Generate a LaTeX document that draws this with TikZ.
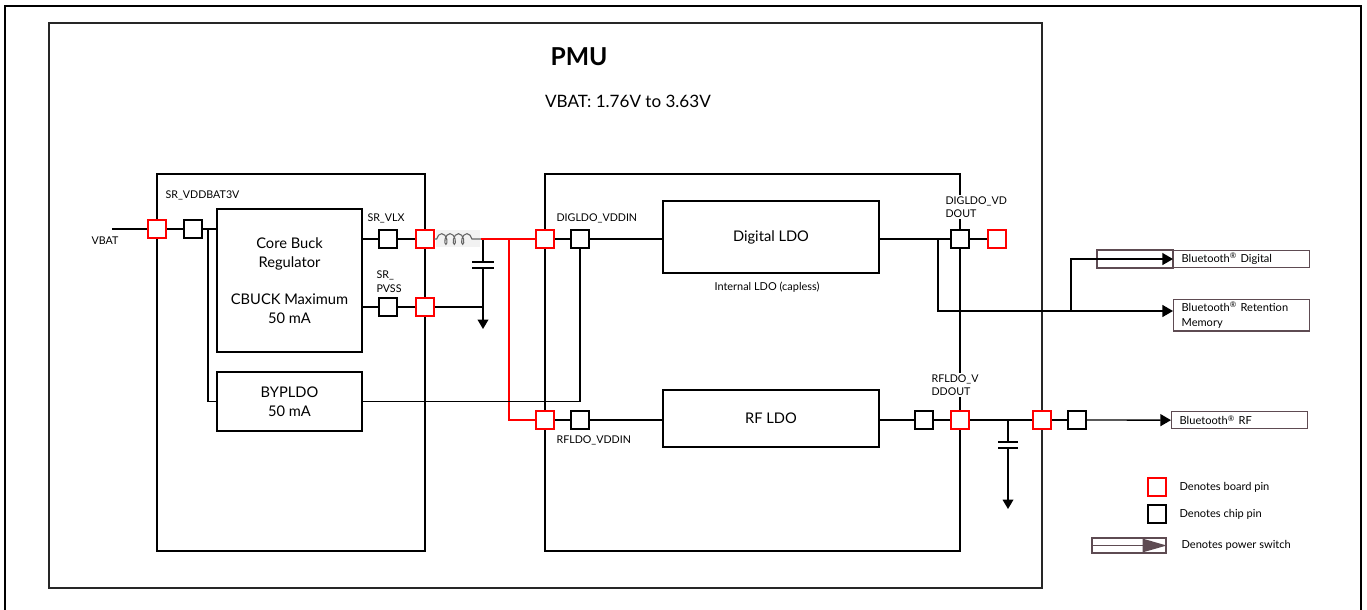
\documentclass[tikz,border=0pt]{standalone}
\usepackage{fontspec}
\setmainfont{Lato}
\usetikzlibrary{arrows.meta,decorations.pathmorphing}
\definecolor{swc}{HTML}{5E4B52}
\begin{document}
\begin{tikzpicture}[x=0.75pt,y=-0.75pt,
  wire/.style={line width=1pt},
  frame/.style={line width=1.3pt},
  rpin/.style={draw=red,fill=white,line width=1pt,minimum size=13.5pt,inner sep=0pt},
  bpin/.style={draw=black,fill=white,line width=1pt,minimum size=13.5pt,inner sep=0pt},
  blk/.style={draw,line width=1pt,align=center,inner sep=0pt,font=\fontsize{11}{14.25}\selectfont},
  lbl/.style={font=\fontsize{8}{10}\selectfont,inner sep=1pt,align=left},
  btbox/.style={draw=swc,line width=1pt,inner xsep=6pt,inner ysep=2pt,align=left,anchor=north west,text width=90pt,font=\fontsize{8.3}{11}\selectfont},
  arr/.style={wire,-{Triangle[length=8pt,width=9pt]}},
  gnd/.style={wire,-{Triangle[length=7pt,width=8pt]}}]
\useasboundingbox (0,0) rectangle (1367,610);
% outer frame and PMU box
\draw[line width=1.6pt] (5,640) -- (5,6) -- (1361,6) -- (1361,640);
\draw[frame,draw=black!85] (49,23) rectangle (1042,588);
\node[font=\fontsize{18.5}{22}\selectfont\bfseries] (pmu) at (579,57) {PMU};
\node[font=\fontsize{12.8}{16}\selectfont] (vbatr) at (628,101) {VBAT: 1.76V to 3.63V};
% containers
\draw[wire] (157,174) rectangle (425,551);
\draw[wire] (545,174) rectangle (960,551);
\node[lbl,anchor=west] (lsrvdd) at (164,195) {SR\_VDDBAT3V};
% blocks
\node[blk,minimum width=108.75pt,minimum height=107.25pt] (core) at (289.5,280.5)
  {Core Buck\\Regulator\\[14pt]CBUCK Maximum\\50 mA};
\node[blk,minimum width=108.75pt,minimum height=44.25pt] (byp) at (289.5,401.5) {BYPLDO\\50 mA};
\node[blk,minimum width=162pt,minimum height=54pt] (digldo) at (771,237) {Digital LDO};
\node[blk,minimum width=162pt,minimum height=42.75pt] (rfldo) at (771,418.5) {RF LDO};
\node[lbl,font=\fontsize{8.2}{10}\selectfont] (intl) at (767,287) {Internal LDO (capless)};
% VBAT input
\coordinate (vin) at (112,229);
\node[lbl] (lvbat) at (105,241) {VBAT};
\node[bpin] (vbatc) at (193,229) {};
\coordinate (tap) at (208,229);
\draw[wire] (vin) -- (157,229);
\draw[wire] (157,229) -- (vbatc.west);
\draw[wire] (vbatc.east) -- (core.west |- vbatc);
\draw[wire] (tap) |- (byp.west);
\node[rpin] (vbatpin) at (157,229) {};
% SR_VLX and SR_PVSS
\node[bpin] (vlxc) at (388,239) {};
\node[bpin] (pvssc) at (388,307) {};
\draw[wire] (core.east |- vlxc) -- (vlxc.west);
\draw[wire] (core.east |- pvssc) -- (pvssc.west);
\draw[wire] (vlxc.east) -- (425,239);
\draw[wire] (pvssc.east) -- (425,307);
\node[rpin] (vlxr) at (425,239) {};
\node[rpin] (pvssr) at (425,307) {};
\node[lbl,anchor=south] (lvlx) at (386,225) {SR\_VLX};
\node[lbl,anchor=south west] (lpvss) at (375,294) {SR\_\\PVSS};
% inductor and capacitor
\coordinate (ls) at (434,239);
\coordinate (le) at (481,239);
\coordinate (cx) at (483,239);
\coordinate (cp1) at (483,262);
\coordinate (cp2) at (483,268);
\coordinate (g1) at (483,329);
\fill[black!5] (436,230) rectangle (480,247);
\draw[black!60,line width=0.8pt,decorate,decoration={coil,aspect=0.55,segment length=6.3pt,amplitude=4pt,pre length=2pt,post length=2pt}] (ls) -- (le);
\draw[wire] (cx) -- (cp1);
\draw[wire] (472,262) -- (494,262);
\draw[wire] (472,268) -- (494,268);
\draw[gnd] (cp2) -- (g1);
\draw[wire] (pvssr.east) -- (483,307);
% red wiring
\node[rpin] (diginr) at (545,239) {};
\node[rpin] (rfinr) at (545,420) {};
\draw[red,line width=1.2pt] (le) -- (diginr.west);
\draw[red,line width=2.2pt] (509,239) -- (509,420) -- (rfinr.west);
\node[rpin] at (545,239) {};
% digital LDO input
\node[bpin] (diginc) at (580,239) {};
\draw[wire] (diginr.east) -- (diginc.west);
\draw[wire] (diginc.east) -- (digldo.west |- diginc);
\draw[wire] (diginc.south) -- (diginc |- byp.east) -- (byp.east);
\node[lbl,anchor=south west] (ldigin) at (555,225) {DIGLDO\_VDDIN};
% RF LDO input
\node[bpin] (rfinc) at (580,420) {};
\draw[wire] (rfinr.east) -- (rfinc.west);
\draw[wire] (rfinc.east) -- (rfldo.west |- rfinc);
\node[lbl,anchor=north west] (lrfin) at (555,434) {RFLDO\_VDDIN};
% digital LDO output
\node[lbl,anchor=west,fill=white] (ldigout) at (944,207) {DIGLDO\_VD\\DOUT};
\node[bpin] (digoutc) at (960,239) {};
\node[rpin] (digoutr) at (997,239) {};
\draw[wire] (digldo.east |- digoutc) -- (digoutc.west);
\draw[wire] (digoutc.east) -- (digoutr.west);
\coordinate (dt) at (938,239);
\coordinate (db) at (938,311);
\coordinate (dj) at (1071,311);
% Bluetooth boxes
\node[btbox,minimum height=11.25pt] (btdig) at (1173,250) {Bluetooth\textsuperscript{®} Digital};
\node[btbox,minimum height=22.5pt] (btret) at (1173,299) {Bluetooth\textsuperscript{®} Retention\\Memory};
\node[btbox,minimum height=12.75pt] (btrf) at (1171,411) {Bluetooth\textsuperscript{®} RF};
\draw[draw=swc,line width=1pt] (1097,250) rectangle (btdig.south west);
\draw[arr] (dt) -- (db) -- (db -| btret.west);
\draw[arr] (dj) |- (btdig.west);
% RF LDO output
\node[lbl,anchor=west,fill=white] (lrfout) at (930,385) {RFLDO\_V\\DDOUT};
\node[bpin] (rfoutc) at (924,420) {};
\node[rpin] (rfoutr) at (960,420) {};
\node[bpin] (pmuc) at (1077,420) {};
\draw[wire] (rfldo.east |- rfoutc) -- (rfoutc.west);
\draw[wire] (rfoutc.east) -- (rfoutr.west);
\draw[wire] (rfoutr.east) -- (1042,420);
\draw[wire] (1042,420) -- (pmuc.west);
\node[rpin] (pmur) at (1042,420) {};
\draw[arr] (pmuc.east) -- (btrf.west);
\coordinate (c2) at (1008,420);
\draw[wire] (c2) -- (1008,442);
\draw[wire] (998,442) -- (1018,442);
\draw[wire] (998,448) -- (1018,448);
\draw[gnd] (1008,448) -- (1008,509);
% legend
\node[rpin] (legr) at (1157,487) {};
\node[bpin] (legb) at (1157,514) {};
\node[lbl,font=\fontsize{8.3}{10}\selectfont,anchor=west] (legrt) at (1178,487) {Denotes board pin};
\node[lbl,font=\fontsize{8.3}{10}\selectfont,anchor=west] (legbt) at (1178,514) {Denotes chip pin};
\node[draw=swc,line width=1pt,minimum width=55.5pt,minimum height=11.25pt,inner sep=0pt] (legs) at (1129,545.5) {};
\draw[draw=swc,line width=1pt,-{Triangle[length=18pt,width=10pt]}] (legs.west) -- (legs.east);
\node[lbl,font=\fontsize{8.3}{10}\selectfont,anchor=west] (legst) at (1180,545) {Denotes power switch};
\end{tikzpicture}
\end{document}
